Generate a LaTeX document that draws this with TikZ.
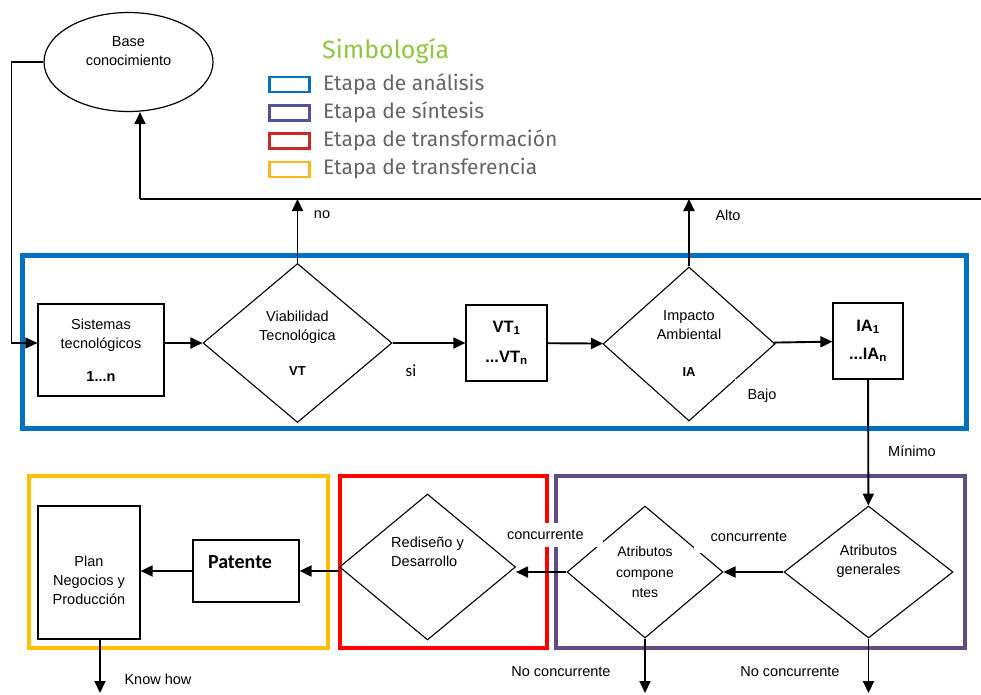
\documentclass[tikz,border=0pt]{standalone}
\usepackage{fontspec}
\setmainfont{Liberation Sans}
\newfontfamily\calibri{Carlito}
\newfontfamily\legfont{Fira Sans}
\usetikzlibrary{shapes.geometric,arrows.meta}
\definecolor{stblue}{RGB}{0,112,192}
\definecolor{stpurple}{RGB}{96,76,128}
\definecolor{stred}{RGB}{255,0,0}
\definecolor{styellow}{RGB}{255,192,0}
\definecolor{legblue}{RGB}{0,114,188}
\definecolor{legpurple}{RGB}{82,82,152}
\definecolor{legred}{RGB}{204,40,40}
\definecolor{legorange}{RGB}{255,184,28}
\definecolor{leggray}{RGB}{100,100,100}
\definecolor{simgreen}{RGB}{141,198,63}
\begin{document}
\begin{tikzpicture}[x=1pt,y=-1pt,>={Triangle[length=12pt,width=11pt]},
	every node/.style={font=\fontsize{14.5}{19}\selectfont,align=center,inner sep=0pt},
	box/.style={draw,line width=1.2pt},
	dia/.style={draw,diamond,line width=1.1pt},
	flow/.style={line width=1.9pt,->},
	lbl/.style={fill=white},
	stage/.style={line width=4pt}]
	\useasboundingbox (0,0) rectangle (981,694);
	% legend
	\node[anchor=west,font=\legfont\fontsize{25}{28}\selectfont,text=simgreen] (simb) at (322,51) {Simbología};
	\foreach \col/\txt [count=\i] in {legblue/Etapa de análisis,legpurple/Etapa de síntesis,legred/Etapa de transformación,legorange/Etapa de transferencia} {
			\draw[\col,line width=2.5pt] (269.5,{77+28.3*(\i-1)}) rectangle ++(40,15);
			\node[anchor=west,font=\legfont\fontsize{21}{24}\selectfont,text=leggray] (leg\i) at (323,{84+28.3*(\i-1)}) {\txt};
		}
	% stages
	\draw[stage,line width=5pt,stblue] (22,255) rectangle (966,428);
	\draw[stage,stpurple] (556,476) rectangle (965,648);
	\draw[stage,stred] (340,476) rectangle (547,648);
	\draw[stage,styellow] (29,476) rectangle (328,648);
	% nodes
	\node[draw,ellipse,line width=1.2pt,minimum width=169,minimum height=99] (base) at (128.5,62) {};
	\node (baseTxt) at (128.5,51) {Base\\conocimiento};
	\node[box,minimum width=126,minimum height=92] (sis) at (101,350) {Sistemas\\tecnológicos\\[14pt]\textbf{1...n}};
	\node[dia,minimum width=189,minimum height=159] (vt) at (297.5,343) {Viabilidad\\Tecnológica\\[16pt]{\fontsize{13}{19}\selectfont\textbf{VT}}};
	\node[box,minimum width=81,minimum height=76,font=\fontsize{16.5}{30}\selectfont\bfseries] (vtn) at (506.5,343) {VT\textsubscript{1}\\...VT\textsubscript{n}};
	\node[dia,minimum width=172,minimum height=154] (ia) at (689,344) {Impacto\\Ambiental\\[18pt]{\fontsize{13}{19}\selectfont\textbf{IA}}};
	\node[box,minimum width=70,minimum height=76,font=\fontsize{16.5}{28}\selectfont\bfseries] (ian) at (868,341) {IA\textsubscript{1}\\...IA\textsubscript{n}};
	\node[dia,minimum width=169,minimum height=132] (ag) at (868.5,572) {};
	\node (agTxt) at (868.5,561) {Atributos\\generales};
	\node[dia,minimum width=156,minimum height=132,font=\fontsize{14}{20.5}\selectfont] (ac) at (645,572) {Atributos\\compone\\ntes};
	\node[dia,minimum width=176,minimum height=146] (rd) at (427.5,567) {};
	\node[align=left] (rdTxt) at (427.5,552) {Rediseño y\\Desarrollo};
	\node[box,minimum width=106,minimum height=62] (pat) at (246,571) {};
	\node[font=\calibri\fontsize{20}{24}\selectfont\bfseries] (patTxt) at (240,562) {Patente};
	\node[box,minimum width=102,minimum height=133] (plan) at (89,572.5) {};
	\node (planTxt) at (89,580) {Plan\\Negocios y\\Producción};
	\coordinate (topL) at (140,199);
	\coordinate (topR) at (981,199);
	\coordinate (outPlan) at (100,693);
	% connectors
	\draw[line width=1.2pt] (base.west) -| ([xshift=-26pt]sis.west |- vt.west);
	\draw[flow,line width=1.2pt] ([xshift=-26pt]sis.west |- vt.west) -- (sis.west |- vt.west);
	\draw[flow] (sis.east |- vt.west) -- (vt.west);
	\draw[flow] (vt) -- (vtn);
	\draw[flow] (vtn) -- (ia);
	\draw[flow] (ia) -- (ian);
	\draw[line width=1.6pt] (topL) -- (topR);
	\draw[flow] (topL) -- (topL |- base.south);
	\draw[flow] (vt.north) -- (vt.north |- topL);
	\draw[flow] (ia.north) -- (ia.north |- topL);
	\draw[flow] (ian) -- (ag);
	\draw[flow] (ag) -- (ac);
	\draw[flow] (ac.west) -- (ac.west -| rd.east);
	\draw[flow] (rd.west |- pat.east) -- (pat.east);
	\draw[flow] (pat.west) -- (pat.west -| plan.east);
	\draw[flow] (outPlan |- plan.south) -- (outPlan);
	\draw[flow] (ac.south) -- (ac.south |- outPlan);
	\draw[flow] (ag.south) -- (ag.south |- outPlan);
	% labels
	\node (no) at (322,215) {no};
	\node (alto) at (728,215) {Alto};
	\node[font=\calibri\fontsize{17}{20}\selectfont] (si) at (411,371) {si};
	\node[lbl,inner xsep=13pt,inner ysep=10pt] (bajo) at (762,396) {Bajo};
	\node (min) at (912,451) {Mínimo};
	\node[lbl,text width=89pt,align=left,inner xsep=7pt,inner ysep=7pt] (concL) at (551.5,535) {concurrente};
	\node[lbl,inner xsep=17pt,inner ysep=11pt] (concR) at (749,537) {concurrente};
	\node (noL) at (561,672) {No concurrente};
	\node (noR) at (790,672) {No concurrente};
	\node (know) at (158,679) {Know how};
\end{tikzpicture}
\end{document}
